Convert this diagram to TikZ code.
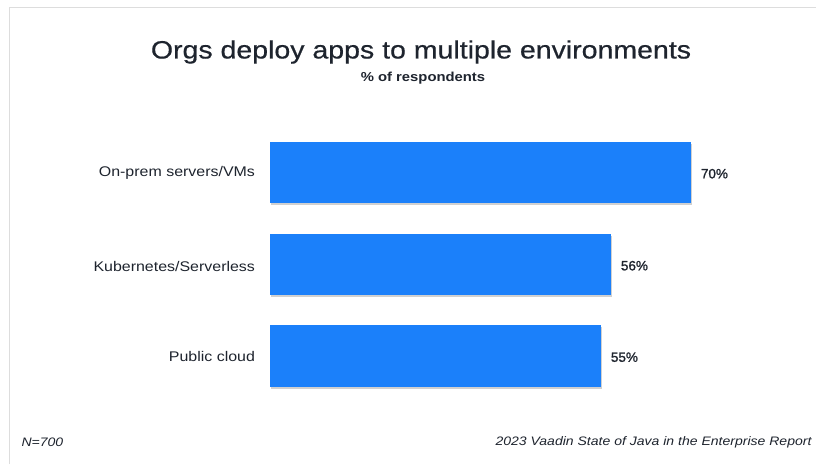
\documentclass[tikz,border=0pt]{standalone}
\usepackage{fontspec}
\setmainfont[FakeStretch=1.14]{Liberation Sans}
\newfontfamily\titlefont[FakeStretch=1.14,FakeBold=0.5]{Liberation Sans}
\newfontfamily\valuefont[FakeBold=1.3]{Liberation Sans}
\usetikzlibrary{shadows}
\definecolor{ink}{RGB}{30,36,46}
\definecolor{barblue}{RGB}{27,128,250}
\definecolor{framegray}{RGB}{221,221,221}
\tikzset{
  x=1pt, y=-1pt,
  bar/.style={fill=barblue, draw=none, anchor=north west, inner sep=0pt,
    minimum height=61pt,
    drop shadow={shadow xshift=0.6pt, shadow yshift=-1.4pt, opacity=0.3, fill=black!60}},
  cat/.style={anchor=east, text=ink, font=\fontsize{14}{16}\selectfont},
  pct/.style={anchor=west, text=ink, font=\valuefont\fontsize{13.5}{15}\selectfont},
  foot/.style={text=ink, font=\fontsize{12.3}{14}\selectfont\itshape},
}
\begin{document}
\begin{tikzpicture}
\useasboundingbox (0,0) rectangle (816,464);
\fill[white] (0,0) rectangle (816,464);
% panel frame (top and left edges)
\draw[framegray, line width=1.2pt] (9.5,464) -- (9.5,7.5) -- (816,7.5);

% headings
\node[text=ink, font=\titlefont\fontsize{25}{28}\selectfont] (title) at (421,52) {Orgs deploy apps to multiple environments};
\node[text=ink, font=\fontsize{13}{15}\selectfont\bfseries] (subtitle) at (423,78.5) {\% of respondents};

% bars
\node[bar, minimum width=421pt] (b1) at (270,142) {};
\node[bar, minimum width=341pt] (b2) at (270,234) {};
\node[bar, minimum width=331pt, minimum height=62pt] (b3) at (270,325) {};

% category labels
\node[cat] (l1) at (258.5,173) {On-prem servers/VMs};
\node[cat] (l2) at (258.5,266) {Kubernetes/Serverless};
\node[cat] (l3) at (258.5,356) {Public cloud};

% values
\node[pct] (v1) at ([xshift=6pt,yshift=-1pt]b1.east) {70\%};
\node[pct] (v2) at ([xshift=6pt,yshift=-1pt]b2.east) {56\%};
\node[pct] (v3) at ([xshift=6pt,yshift=-1pt]b3.east) {55\%};

% footer
\node[foot, anchor=west] (n) at (18,442) {N=700};
\node[foot, anchor=east] (src) at (815,442) {2023 Vaadin State of Java in the Enterprise Report};
\end{tikzpicture}
\end{document}
